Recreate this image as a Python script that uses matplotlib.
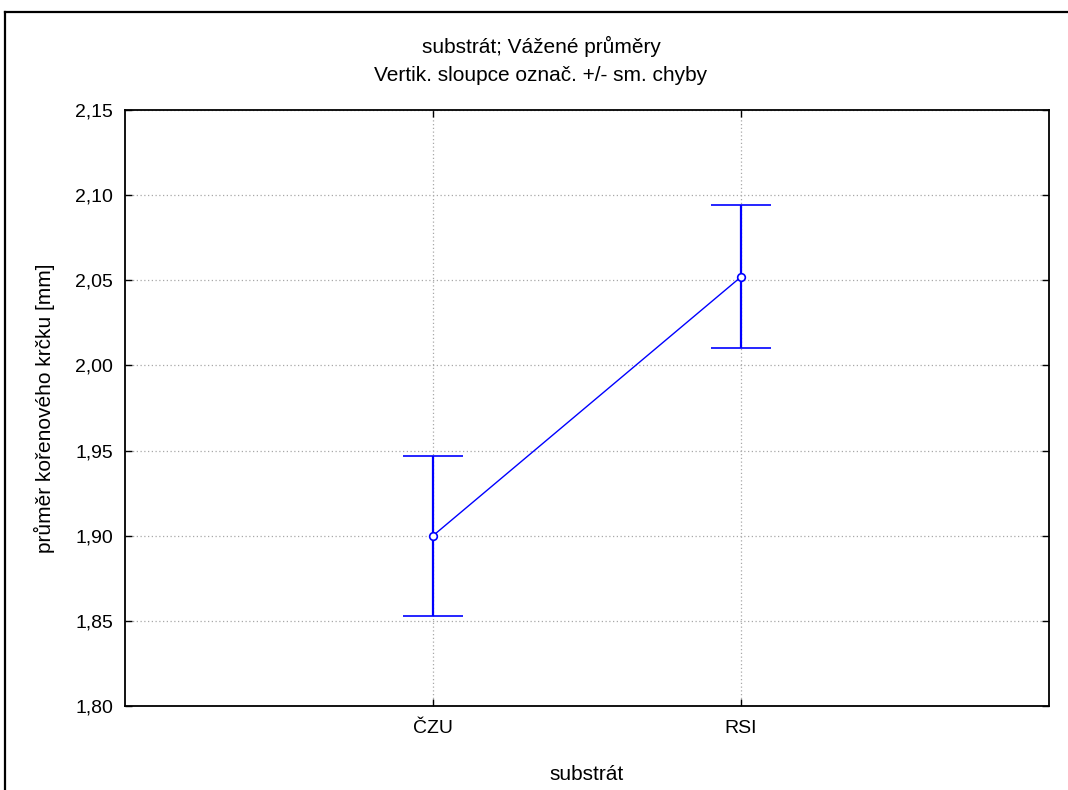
import matplotlib
matplotlib.use("Agg")
import matplotlib.pyplot as plt
from matplotlib.lines import Line2D
from matplotlib.ticker import FuncFormatter

categories = ["ČZU", "RSI"]
means = [1.900, 2.052]
std_errors = [0.047, 0.042]
yticks = [1.80, 1.85, 1.90, 1.95, 2.00, 2.05, 2.10, 2.15]

plt.rcParams['font.family'] = ['Liberation Sans', 'DejaVu Sans']
W, H = 1068, 790
fig = plt.figure(figsize=(W / 100, H / 100), dpi=100)
ax_l, ax_r, ax_t, ax_b = 125, 1049, 110, 706
ax = fig.add_axes([ax_l / W, 1 - ax_b / H, (ax_r - ax_l) / W, (ax_b - ax_t) / H])

x = [1, 2]
blue = '#0000ff'
ax.plot(x, means, color=blue, lw=1.0, zorder=3)
ax.errorbar(x, means, yerr=std_errors, fmt='o', color=blue, ecolor=blue,
            elinewidth=1.6, capsize=21.5, capthick=1.8, markersize=5.5,
            markerfacecolor='white', markeredgecolor=blue, markeredgewidth=1.2,
            zorder=4)

ax.set_xlim(0, 3)
ax.set_ylim(1.80, 2.15)
ax.set_xticks(x)
ax.set_xticklabels(categories)
ax.set_yticks(yticks)
ax.yaxis.set_major_formatter(FuncFormatter(lambda v, p: f"{v:.2f}".replace('.', ',')))
ax.tick_params(direction='in', length=5, width=1, labelsize=14, colors='black',
               top=True, right=True)
ax.tick_params(axis='y', pad=8.5)
ax.tick_params(axis='x', pad=10)
ax.grid(True, color='#a8a8a8', linestyle=(0, (1, 2)), linewidth=0.9)
for s in ax.spines.values():
    s.set_linewidth(1.3)
    s.set_color('black')

aw, ah = ax_r - ax_l, ax_b - ax_t
ax.set_xlabel("substrát", fontsize=15, va='baseline')
ax.xaxis.set_label_coords(0.5, -(780 - ax_b) / ah)
ax.set_ylabel("průměr kořenového krčku [mm]", fontsize=15, va='center')
ax.yaxis.set_label_coords(-(ax_l - 44) / aw, 0.5)

fig.text(541 / W, 1 - 53 / H, "substrát; Vážené průměry", ha='center', va='baseline', fontsize=15)
fig.text(541 / W, 1 - 81 / H, "Vertik. sloupce označ. +/- sm. chyby", ha='center', va='baseline', fontsize=15)

fig.add_artist(Line2D([5 / W, 1], [1 - 12 / H, 1 - 12 / H], color='black', lw=1.6, transform=fig.transFigure))
fig.add_artist(Line2D([5 / W, 5 / W], [0, 1 - 12 / H], color='black', lw=1.6, transform=fig.transFigure))

fig.savefig("out.png", dpi=100)
